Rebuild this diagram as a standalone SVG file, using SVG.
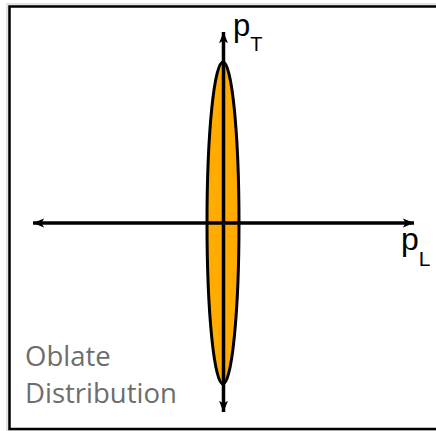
<svg xmlns="http://www.w3.org/2000/svg" width="436" height="431" viewBox="0 0 436 431">
<defs>
<style>
.ax{stroke:#000;stroke-width:3.5;fill:none}
.lbl{font-family:"Liberation Sans",Arial,sans-serif;fill:#000}
.cap{font-family:"Open Sans",sans-serif;fill:#6d6d6d;font-size:27.5px}
</style>
<marker id="ah" viewBox="0 0 10 8" refX="10" refY="4" markerWidth="3.2" markerHeight="2.6" orient="auto-start-reverse" markerUnits="strokeWidth">
<path d="M0,0 L10,4 L0,8 L2.5,4 Z" fill="#000"/>
</marker>
</defs>
<rect width="436" height="431" fill="#fff"/>
<g id="frame">
<rect x="7.5" y="4.5" width="440" height="427" fill="none" stroke="#e4e4e4" stroke-width="3"/>
<rect x="9.5" y="6.5" width="440" height="422.5" fill="#fff" stroke="#000" stroke-width="2.5"/>
</g>
<g id="distribution">
<ellipse cx="223" cy="223" rx="16" ry="161" fill="#ffab00" stroke="#000" stroke-width="3"/>
</g>
<g id="connectors">
<line class="ax" x1="223.5" y1="412" x2="223.5" y2="32" marker-start="url(#ah)" marker-end="url(#ah)"/>
<line class="ax" x1="33" y1="223" x2="414" y2="223" marker-start="url(#ah)" marker-end="url(#ah)"/>
</g>
<g id="pT">
<text class="lbl" x="233" y="36" font-size="31">p<tspan font-size="20" dy="15">T</tspan></text>
</g>
<g id="pL">
<text class="lbl" x="401" y="250" font-size="32">p<tspan font-size="21" dy="16">L</tspan></text>
</g>
<g id="caption">
<text class="cap" x="25" y="366">Oblate</text>
<text class="cap" x="25" y="403">Distribution</text>
</g>
</svg>
